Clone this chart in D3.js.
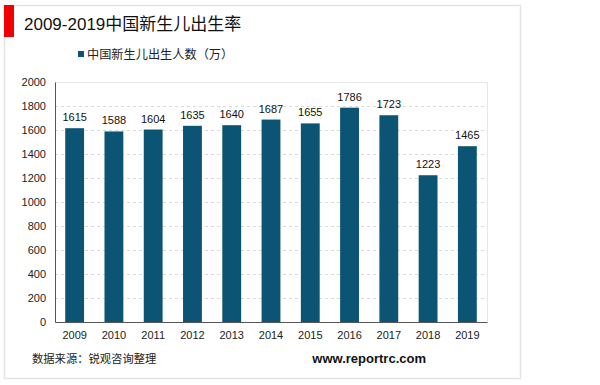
<!DOCTYPE html>
<html>
<head>
<meta charset="utf-8">
<script src="https://cdn.jsdelivr.net/npm/d3@7"></script>
<style>
  body { margin: 0; background: #fff; }
  svg { display: block; font-family: "Liberation Sans", Arial, "Noto Sans CJK SC", sans-serif; }
</style>
</head>
<body>
<svg id="chart" width="600" height="385"></svg>
<script>
// data
const years = ["2009", "2010", "2011", "2012", "2013", "2014", "2015", "2016", "2017", "2018", "2019"]
const births = [1615, 1588, 1604, 1635, 1640, 1687, 1655, 1786, 1723, 1223, 1465]
const yTicks = [0, 200, 400, 600, 800, 1000, 1200, 1400, 1600, 1800, 2000]

const svg = d3.select("#chart")
const barColor = "#0c5473"
const cjk = "'Liberation Sans', 'Noto Sans CJK SC', sans-serif"

// card with red marker
svg.append("rect")
   .attr("x", 4.5).attr("y", 5.5)
   .attr("width", 516).attr("height", 373)
   .attr("fill", "#fff")
   .attr("stroke", "#e3e3e3")
   .attr("stroke-width", 1.5)

svg.append("rect")
   .attr("x", 4).attr("y", 5)
   .attr("width", 10).attr("height", 32)
   .attr("fill", "#f00000")

svg.append("text")
   .text("2009-2019中国新生儿出生率")
   .attr("x", 24).attr("y", 30)
   .attr("font-family", cjk)
   .attr("font-size", 17)
   .attr("fill", "#111")

// legend
svg.append("rect")
   .attr("x", 78).attr("y", 51)
   .attr("width", 6).attr("height", 6)
   .attr("fill", barColor)

svg.append("text")
   .text("中国新生儿出生人数（万）")
   .attr("x", 87).attr("y", 59)
   .attr("font-family", cjk)
   .attr("font-size", 12.2)
   .attr("fill", "#222")

// plot area
const plotLeft = 55, plotRight = 487, plotTop = 82, plotBottom = 322

const x = d3.scaleBand()
            .domain(years)
            .range([plotLeft, plotRight])
            .paddingInner(0.52)
            .paddingOuter(0.26)

const y = d3.scaleLinear()
            .domain([0, 2000])
            .range([plotBottom, plotTop])

// frame top + right
svg.append("path")
   .attr("d", `M${plotLeft},${plotTop + 0.5}H${plotRight + 0.5}V${plotBottom}`)
   .attr("fill", "none")
   .attr("stroke", "#e6e6e6")

// dashed gridlines
svg.append("g")
   .selectAll("line")
   .data(yTicks.filter(d => d > 0 && d < 2000))
   .enter()
   .append("line")
   .attr("x1", plotLeft).attr("x2", plotRight)
   .attr("y1", d => Math.round(y(d)) + 0.5)
   .attr("y2", d => Math.round(y(d)) + 0.5)
   .attr("stroke", "#d9d9d9")
   .attr("stroke-dasharray", "3,3")

// bars
svg.append("g")
   .selectAll("rect")
   .data(births)
   .enter()
   .append("rect")
   .attr("x", (d, i) => x(years[i]))
   .attr("y", d => y(d))
   .attr("width", x.bandwidth())
   .attr("height", d => plotBottom - y(d))
   .attr("fill", barColor)

// value labels
svg.append("g")
   .selectAll("text")
   .data(births)
   .enter()
   .append("text")
   .text(d => d)
   .attr("x", (d, i) => x(years[i]) + x.bandwidth() / 2)
   .attr("y", d => y(d) - 7)
   .attr("text-anchor", "middle")
   .attr("font-size", 11)
   .attr("fill", "#111")

// axes
const yAxis = svg.append("g")
                 .attr("transform", `translate(${plotLeft},0)`)
                 .call(d3.axisLeft(y).tickValues(yTicks).tickFormat(d3.format("d")).tickSize(0).tickPadding(9))
yAxis.select(".domain").attr("stroke", "#555")
yAxis.selectAll("text").attr("font-size", 11).attr("fill", "#222")
     .attr("font-family", "'Liberation Sans', Arial, sans-serif")

const xAxis = svg.append("g")
                 .attr("transform", `translate(0,${plotBottom})`)
                 .call(d3.axisBottom(x).tickSize(0).tickPadding(9))
xAxis.select(".domain").attr("stroke", "#555")
xAxis.selectAll("text").attr("font-size", 11).attr("fill", "#222")
     .attr("font-family", "'Liberation Sans', Arial, sans-serif")

// footer
svg.append("text")
   .text("数据来源：锐观咨询整理")
   .attr("x", 32).attr("y", 363)
   .attr("font-family", cjk)
   .attr("font-size", 11.3)
   .attr("fill", "#222")

svg.append("text")
   .text("www.reportrc.com")
   .attr("x", 426).attr("y", 363)
   .attr("text-anchor", "end")
   .attr("font-family", "'Liberation Sans', Arial, sans-serif")
   .attr("font-weight", "bold")
   .attr("font-size", 13)
   .attr("fill", "#111")
</script>
</body>
</html>
